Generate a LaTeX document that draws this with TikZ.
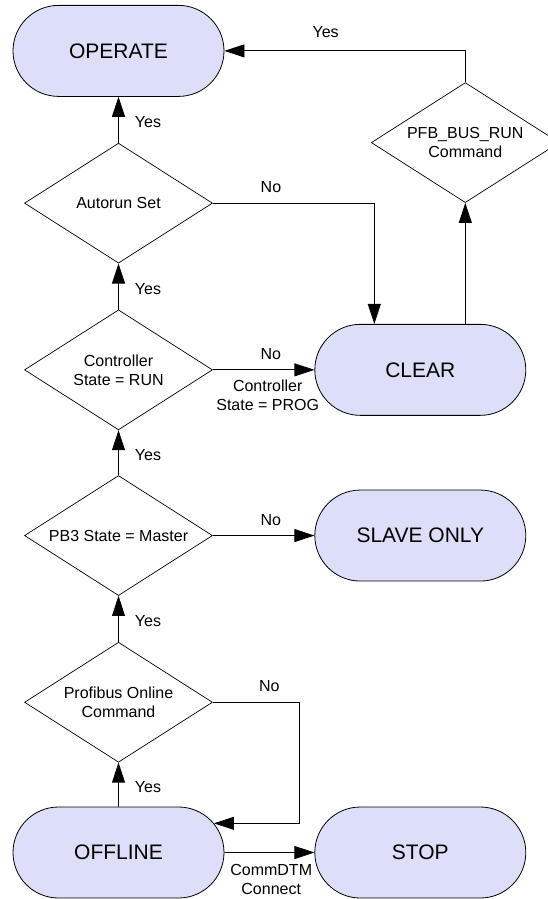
\documentclass[tikz,border=0pt]{standalone}
\usepackage{fontspec}
\setmainfont{Liberation Sans}
\usepackage{tikz}
\usetikzlibrary{shapes.geometric, shapes.misc, positioning, arrows.meta}
\definecolor{stateblue}{RGB}{221,222,248}

\begin{document}
\begin{tikzpicture}[x=1pt, y=-1pt, font=\fontsize{16}{19}\selectfont]
\tikzset{state/.style={rounded rectangle, draw, line width=0.8pt, fill=stateblue, minimum width=211pt, minimum height=91pt, inner sep=0pt, font=\fontsize{21}{25}\selectfont}}
\tikzset{decision/.style={diamond, draw, line width=0.7pt, aspect=1.567, minimum width=188pt, minimum height=120pt, inner sep=0pt, align=center}}
\tikzset{link/.style={-{Triangle[length=20pt, width=13pt]}, line width=0.8pt}}
\tikzset{yeslbl/.style={pos=0.45, right=16pt, inner sep=0pt}, nolbl/.style={above=10pt, inner sep=0pt}}
\useasboundingbox (0,0) rectangle (548,899);
% left column
\node[state] (offline) at (118.5,852.5) {OFFLINE};
\node[decision, above=44pt of offline] (profibus) {Profibus Online\\Command};
\node[decision, above=46pt of profibus] (pb3) {PB3 State = Master};
\node[decision, above=45pt of pb3] (controller) {Controller\\State = RUN};
\node[decision, above=46pt of controller] (autorun) {Autorun Set};
\node[state, above=46pt of autorun] (operate) {OPERATE};
% right column
\node[state, right=90pt of offline] (stop) {STOP};
\node[state] (slave) at (stop |- pb3) {SLAVE ONLY};
\node[state] (clear) at (stop |- controller) {CLEAR};
\node[decision, above=121pt of clear, xshift=45pt] (pfb) {PFB\_BUS\_RUN\\Command};
% transitions
\draw[link] (offline) -- node[yeslbl] {Yes} (profibus);
\draw[link] (profibus) -- node[yeslbl] {Yes} (pb3);
\draw[link] (pb3) -- node[yeslbl] {Yes} (controller);
\draw[link] (controller) -- node[yeslbl] {Yes} (autorun);
\draw[link] (autorun) -- node[yeslbl] {Yes} (operate);
\draw[link] (offline) -- node[pos=0.52, below=11pt, inner sep=0pt, align=center] {CommDTM\\Connect} (stop);
\draw[link] (profibus.east) -- node[nolbl, pos=0.65] {No} ++(87,0) |- (offline.17);
\draw[link] (pb3) -- node[nolbl, pos=0.57] {No} (slave);
\draw[link] (controller) -- node[nolbl, pos=0.57] {No} node[pos=0.54, below=10pt, inner sep=0pt, align=center] {Controller\\State = PROG} (clear);
\draw[link] (autorun.east) -| node[nolbl, pos=0.18] {No} ([xshift=-46pt]clear.north);
\draw[link] (clear.north -| pfb) -- (pfb);
\draw[link] (pfb) |- node[pos=0.79, above=13pt, inner sep=0pt] {Yes} (operate);
\end{tikzpicture}
\end{document}
